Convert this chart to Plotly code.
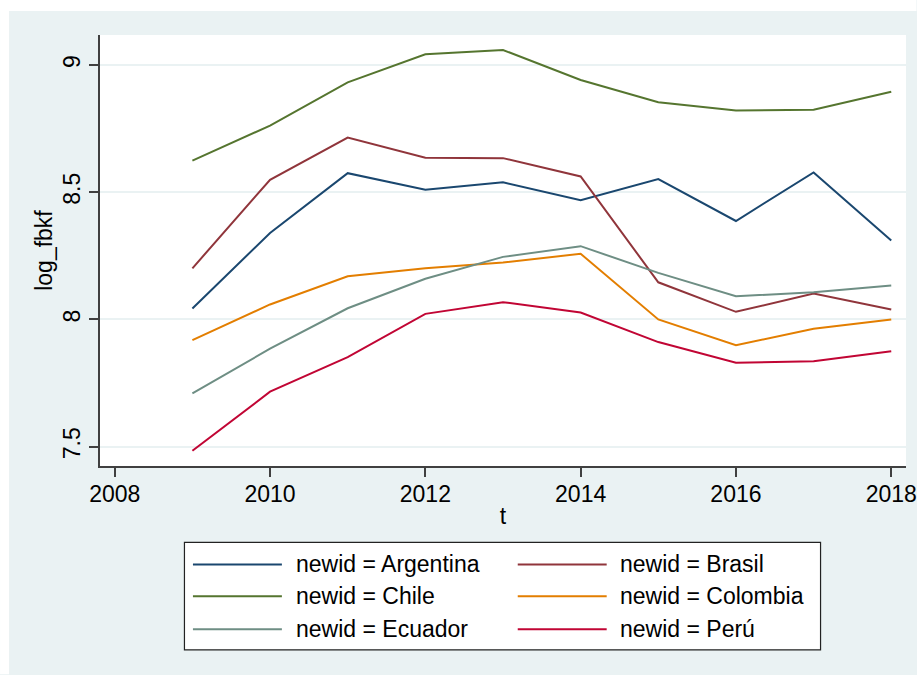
import plotly.graph_objects as go

# Annual gross fixed capital formation (log) by country
years = [2009, 2010, 2011, 2012, 2013, 2014, 2015, 2016, 2017, 2018]

argentina = [8.043, 8.340, 8.575, 8.510, 8.539, 8.469, 8.552, 8.387, 8.578, 8.310]
brasil = [8.201, 8.549, 8.715, 8.636, 8.634, 8.562, 8.146, 8.030, 8.102, 8.039]
chile = [8.624, 8.762, 8.932, 9.042, 9.059, 8.941, 8.854, 8.821, 8.824, 8.895]
colombia = [7.919, 8.059, 8.170, 8.201, 8.224, 8.258, 8.000, 7.899, 7.963, 8.000]
ecuador = [7.709, 7.885, 8.044, 8.160, 8.246, 8.288, 8.183, 8.091, 8.107, 8.133]
peru = [7.484, 7.716, 7.852, 8.022, 8.068, 8.027, 7.911, 7.830, 7.836, 7.875]

countries = ["Argentina", "Brasil", "Chile", "Colombia", "Ecuador", "Perú"]
series = [argentina, brasil, chile, colombia, ecuador, peru]
colors = ["#1a476f", "#90353b", "#55752f", "#e37e00", "#6e8e84", "#c10534"]

x_ticks = [2008, 2010, 2012, 2014, 2016, 2018]
y_ticks = [7.5, 8, 8.5, 9]
y_tick_text = ["7.5", "8", "8.5", "9"]

W, H = 917, 675
ML, MR, MT, MB = 100, 10.5, 35, 208.5
PW, PH = W - ML - MR, H - MT - MB

BG = "#EAF2F3"
AXIS = "#404040"
FONT = "Liberation Sans, Arial, sans-serif"


def px_x(p):
    return (p - ML) / PW


def px_y(p):
    return (H - MB - p) / PH


fig = go.Figure()
for name, vals, col in zip(countries, series, colors):
    fig.add_trace(go.Scatter(
        x=years, y=vals, mode="lines", name=f"newid = {name}",
        line=dict(color=col, width=2), showlegend=False,
    ))

shapes = [
    # white margin strips at the top and the left of the graph region
    dict(type="rect", xref="paper", yref="paper", x0=px_x(0), x1=px_x(W),
         y0=px_y(11), y1=px_y(0), fillcolor="white", line_width=0, layer="above"),
    dict(type="rect", xref="paper", yref="paper", x0=px_x(0), x1=px_x(9),
         y0=px_y(H), y1=px_y(0), fillcolor="white", line_width=0, layer="above"),
    # legend box
    dict(type="rect", xref="paper", yref="paper", x0=px_x(184.5), x1=px_x(821),
         y0=px_y(650.5), y1=px_y(543), fillcolor="white",
         line=dict(color="#222222", width=1.2), layer="above"),
]
annotations = []

row_y = [565, 597, 630]
col_line_x = [(193, 282), (518, 607)]
col_text_x = [294, 618]
for i, (name, col) in enumerate(zip(countries, colors)):
    r, c = divmod(i, 2)
    ly = row_y[r]
    shapes.append(dict(type="line", xref="paper", yref="paper",
                       x0=px_x(col_line_x[c][0]), x1=px_x(col_line_x[c][1]),
                       y0=px_y(ly), y1=px_y(ly),
                       line=dict(color=col, width=2), layer="above"))
    annotations.append(dict(xref="paper", yref="paper", x=px_x(col_text_x[c]), y=px_y(ly),
                            xanchor="left", yanchor="middle", showarrow=False,
                            text=f"newid = {name}",
                            font=dict(family=FONT, size=23, color="black")))

fig.update_layout(
    width=W, height=H,
    margin=dict(l=ML, r=MR, t=MT, b=MB, pad=0, autoexpand=False),
    paper_bgcolor=BG, plot_bgcolor="white",
    font=dict(family=FONT, size=22, color="black"),
    shapes=shapes, annotations=annotations,
    xaxis=dict(
        range=[2007.81, 2018.19], tickvals=x_ticks, ticktext=[str(t) for t in x_ticks],
        showgrid=False, zeroline=False, automargin=False,
        showline=True, linecolor=AXIS, linewidth=2,
        ticks="outside", ticklen=9, tickwidth=1.5, tickcolor=AXIS,
        tickfont=dict(size=23), ticklabelstandoff=-3,
        title=dict(text="t", font=dict(size=23), standoff=2),
    ),
    yaxis=dict(
        range=[7.424, 9.118], tickvals=y_ticks, ticktext=y_tick_text,
        tickangle=-90, automargin=False,
        showgrid=True, gridcolor=BG, gridwidth=2, zeroline=False,
        showline=True, linecolor=AXIS, linewidth=2,
        ticks="outside", ticklen=9, tickwidth=1.5, tickcolor=AXIS,
        tickfont=dict(size=23),
        title=dict(text="log_fbkf", font=dict(size=23), standoff=0),
    ),
)

fig.write_html("out.html")
